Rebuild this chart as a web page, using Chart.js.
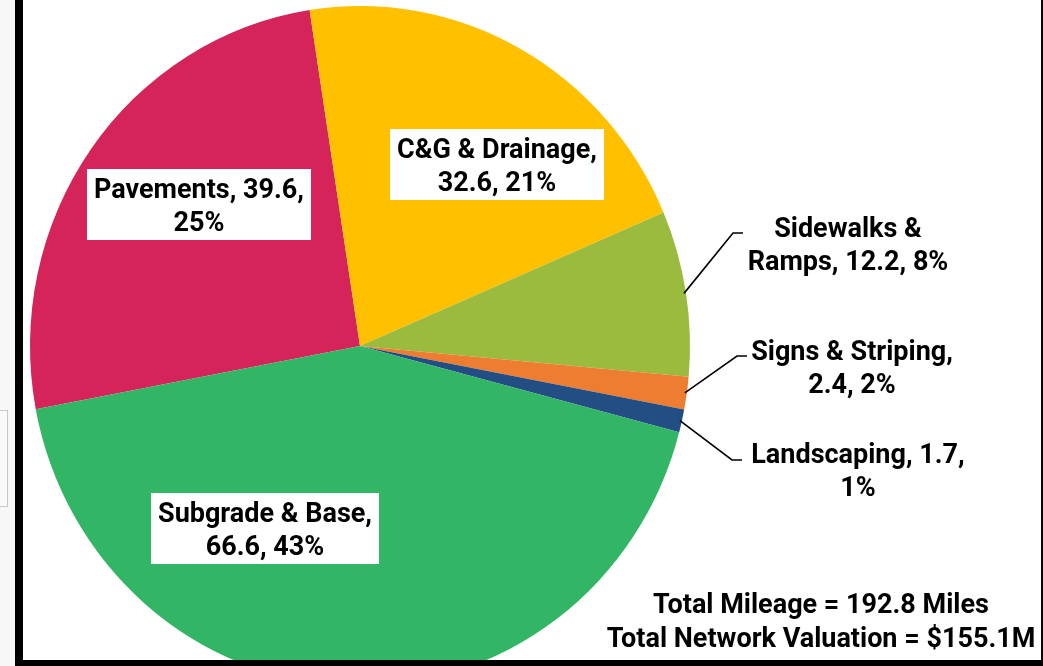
<!DOCTYPE html>
<html>
<head>
<meta charset="utf-8">
<script src="https://cdn.jsdelivr.net/npm/chart.js@4.4.1/dist/chart.umd.min.js"></script>
<style>
  html, body { margin: 0; padding: 0; width: 1043px; height: 666px; overflow: hidden; background: #fff; }
  #wrap { position: relative; width: 1043px; height: 666px; }
  #pie { position: absolute; left: 0; top: 0; }
  .strip { position: absolute; left: 0; top: 0; width: 15px; height: 666px; background: #f7f7f8; }
  .greybox { position: absolute; left: -2px; top: 410px; width: 8px; height: 95px; border: 1px solid #c8c8c8; background: #f9f9f9; }
  .bar-left { position: absolute; left: 15px; top: 0; width: 8px; height: 666px; background: #000; }
  .bar-right { position: absolute; left: 1041px; top: 0; width: 2px; height: 666px; background: #000; }
  .bar-bottom { position: absolute; left: 15px; top: 660px; width: 1028px; height: 6px; background: #000; }
</style>
</head>
<body>
<div id="wrap">
  <canvas id="pie" width="1043" height="700"></canvas>
  <div class="strip"></div>
  <div class="greybox"></div>
  <div class="bar-left"></div>
  <div class="bar-right"></div>
  <div class="bar-bottom"></div>
</div>
<script>
// Network valuation by asset ($M)
const categories = ['Pavements', 'C&G & Drainage', 'Sidewalks & Ramps', 'Signs & Striping', 'Landscaping', 'Subgrade & Base'];
const values = [39.6, 32.6, 12.2, 2.4, 1.7, 66.6];
const sliceColors = ['#d4245a', '#ffc000', '#9bbb3f', '#ed7d31', '#224e84', '#33b566'];

// label text as shown on the chart
const labelLines = [
    ['Pavements, 39.6,', '25%'],
    ['C&G & Drainage,', '32.6, 21%'],
    ['Sidewalks &', 'Ramps, 12.2, 8%'],
    ['Signs & Striping,', '2.4, 2%'],
    ['Landscaping, 1.7,', '1%'],
    ['Subgrade & Base,', '66.6, 43%']
];
const totalLines = ['Total Mileage = 192.8 Miles', 'Total Network Valuation = $155.1M'];

// where each label goes: boxed inside the slice, or outside with a leader line
const labelSpots = [
    { inside: true, x: 199, y: 206 },
    { inside: true, x: 497, y: 166 },
    { inside: false, elbowX: 733, elbowY: 233, x: 848, y: 245 },
    { inside: false, elbowX: 737, elbowY: 356, x: 852, y: 368 },
    { inside: false, elbowX: 732, elbowY: 460, x: 858, y: 471 },
    { inside: true, x: 265, y: 530 }
];

const font = 'bold 27px Roboto';
const lineGap = 33;
const textShift = 2;
const stretchY = 340 / 330;   // the original pie is a little taller than wide

const stretchPie = {
    id: 'stretchPie',
    beforeDatasetsDraw(chart) {
        const arc = chart.getDatasetMeta(0).data[0];
        const ctx = chart.ctx;
        ctx.save();
        ctx.translate(arc.x, arc.y);
        ctx.scale(1, stretchY);
        ctx.translate(-arc.x, -arc.y);
    },
    afterDatasetsDraw(chart) {
        chart.ctx.restore();
    }
};

const sliceLabels = {
    id: 'sliceLabels',
    afterDraw(chart) {
        const ctx = chart.ctx;
        const arcs = chart.getDatasetMeta(0).data;
        ctx.save();
        ctx.font = font;
        ctx.textAlign = 'center';
        ctx.textBaseline = 'middle';

        labelSpots.forEach((spot, i) => {
            const lines = labelLines[i];
            const top = spot.y - lineGap / 2 + textShift;
            if (spot.inside) {
                const w = Math.max(...lines.map(t => ctx.measureText(t).width)) + 14;
                const h = 71;
                ctx.fillStyle = '#fff';
                ctx.fillRect(Math.round(spot.x - w / 2), Math.round(spot.y - 2 - h / 2), Math.round(w), h);
            } else {
                const arc = arcs[i];
                const mid = (arc.startAngle + arc.endAngle) / 2;
                const r = arc.outerRadius - 2;
                ctx.strokeStyle = '#000';
                ctx.lineWidth = 1.6;
                ctx.beginPath();
                ctx.moveTo(arc.x + Math.cos(mid) * r, arc.y + Math.sin(mid) * r * stretchY);
                ctx.lineTo(spot.elbowX, spot.elbowY);
                ctx.lineTo(spot.elbowX + 10, spot.elbowY);
                ctx.stroke();
            }
            ctx.fillStyle = '#000';
            lines.forEach((t, k) => ctx.fillText(t, spot.x, top + k * lineGap));
        });

        totalLines.forEach((t, k) => ctx.fillText(t, 821, 604 + textShift + k * 34));
        ctx.restore();
    }
};

const ctx = document.getElementById('pie').getContext('2d');
const pieChart = new Chart(ctx, {
    type: 'pie',
    data: {
        labels: categories,
        datasets: [{
            data: values,
            backgroundColor: sliceColors,
            borderWidth: 0,
            hoverOffset: 0
        }]
    },
    options: {
        responsive: false,
        animation: false,
        rotation: -100.7,
        layout: { padding: { left: 30, top: 16, right: 353, bottom: 24 } },
        plugins: {
            legend: { display: false },
            tooltip: { enabled: false }
        }
    },
    plugins: [stretchPie, sliceLabels]
});
</script>
</body>
</html>
